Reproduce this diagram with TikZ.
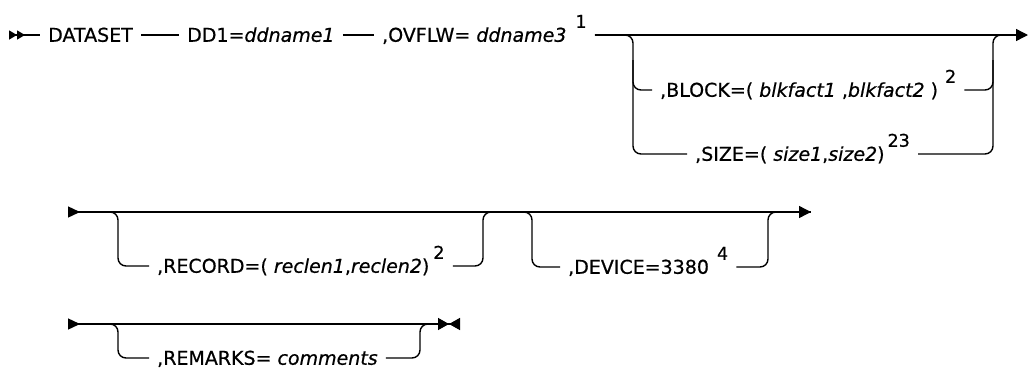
\documentclass[tikz,border=0pt]{standalone}
\usepackage{fontspec}
\setmainfont{DejaVu Sans}
\newfontfamily\railfont{DejaVu Sans}[FakeBold=0.6]
\usetikzlibrary{arrows.meta,calc}
\tikzset{
  tok/.style={anchor=west,inner xsep=8pt,inner ysep=0pt,text height=13.5pt,text depth=0pt,
              font=\railfont\fontsize{19}{23}\selectfont},
  rail/.style={line width=1.4pt},
  brk/.style={rail,rounded corners=8pt},
  begone/.style={rail,{Triangle[reversed,length=12pt,width=11pt]}-},
  begtwo/.style={rail,{Triangle[reversed,length=8pt,width=9pt]Triangle[reversed,length=8pt,width=9pt]}-},
  goon/.style={rail,-{Triangle[length=12pt,width=12pt]}},
  stopit/.style={rail,-{Triangle[length=11pt,width=12pt]Triangle[reversed,length=11pt,width=12pt]}},
}
\newcommand\synnote[2][6pt]{\hspace{#1}\smash{\raisebox{14pt}{\fontsize{17.5}{17.5}\selectfont #2}}}

\begin{document}
\begin{tikzpicture}[x=1pt,y=-1pt]
  \useasboundingbox (0,0) rectangle (1029,370);
  % --- first line ---
  \coordinate (r1s) at (9,35);
  \node[tok] (ds)  at (40,35)  {DATASET};
  \node[tok] (dd1) at (179,35) {DD1=\textit{ddname1}};
  \node[tok] (ovf) at (374,35) {,OVFLW= \textit{ddname3}\synnote[9pt]{1}};
  \coordinate (r1e) at (1028,35);
  \draw[begtwo] (r1s) -- (ds);
  \draw[rail] (ds) -- (dd1);
  \draw[rail] (dd1) -- (ovf);
  \draw[goon] (ovf) -- (r1e);
  % optional block / size
  \coordinate (blkL) at (633,35);
  \coordinate (blkR) at (993,35);
  \node[tok] (blk) at (652,90)  {,BLOCK=( \textit{blkfact1} ,\textit{blkfact2} )\synnote[7pt]{2}};
  \node[tok] (sz)  at (687,154) {,SIZE=( \textit{size1},\textit{size2})\synnote[3pt]{23}};
  \draw[brk] (ovf.east) -| (blkL |- sz.west) -- (sz.west);
  \draw[brk] ($(blkL)+(0,25)$) |- (blk.west);
  \draw[brk] (sz.east) -| (blkR) -- +(14,0);
  \draw[brk] (blk.east) -| ($(blkR)+(0,25)$);
  % --- second line ---
  \coordinate (r2s) at (68,212);
  \coordinate (r2e) at (811,212);
  \draw[begone] (r2s) -- (r2e);
  \draw[goon] ($(r2e)+(-20,0)$) -- (r2e);
  % record
  \coordinate (recL) at (118,212);
  \coordinate (recR) at (483,212);
  \node[tok] (rec) at (149,266) {,RECORD=( \textit{reclen1},\textit{reclen2})\synnote[4pt]{2}};
  \draw[brk] ($(recL)+(-20,0)$) -| (recL |- rec.west) -- (rec.west);
  \draw[brk] (rec.east) -| (recR) -- +(14,0);
  % device
  \coordinate (devL) at (532,212);
  \coordinate (devR) at (768,212);
  \node[tok] (dev) at (560,267) {,DEVICE=3380\synnote[8pt]{4}};
  \draw[brk] ($(devL)+(-20,0)$) -| (devL |- dev.west) -- (dev.west);
  \draw[brk] (dev.east) -| (devR) -- +(14,0);
  % --- third line ---
  \coordinate (r3s) at (68,324);
  \coordinate (r3e) at (460,324);
  \draw[begone] (r3s) -- ($(r3s)+(30,0)$);
  \draw[stopit] ($(r3s)+(20,0)$) -- (r3e);
  \coordinate (remL) at (118,324);
  \coordinate (remR) at (420,324);
  \node[tok] (rem) at (149,358) {,REMARKS= \textit{comments}};
  \draw[brk] ($(remL)+(-20,0)$) -| (remL |- rem.west) -- (rem.west);
  \draw[brk] (rem.east) -| (remR) -- +(14,0);
\end{tikzpicture}
\end{document}
